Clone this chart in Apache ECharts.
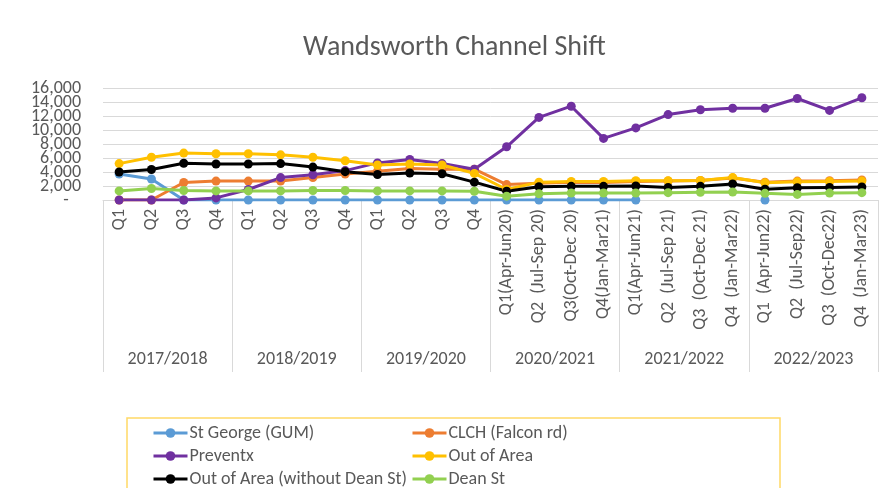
<!DOCTYPE html>
<html>
<head>
<meta charset="utf-8">
<script src="https://cdn.jsdelivr.net/npm/echarts@6/dist/echarts.min.js"></script>
<style>html,body{margin:0;padding:0;background:#fff}#c{width:883px;height:488px}</style>
</head>
<body>
<div id="c"></div>
<script>
var categories = ['Q1','Q2','Q3','Q4','Q1','Q2','Q3','Q4','Q1','Q2','Q3','Q4',
  'Q1(Apr-Jun20)','Q2  (Jul-Sep 20)','Q3(Oct-Dec 20)','Q4(Jan-Mar21)',
  'Q1(Apr-Jun21)','Q2  (Jul-Sep 21)','Q3  (Oct-Dec 21)','Q4  (Jan-Mar22)',
  'Q1  (Apr-Jun22)','Q2  (Jul-Sep22)','Q3  (Oct-Dec22)','Q4  (Jan-Mar23)'];
var years = ['2017/2018','2018/2019','2019/2020','2020/2021','2021/2022','2022/2023'];
var yTicks = [0, 2000, 4000, 6000, 8000, 10000, 12000, 14000, 16000];

var stGeorge = [3700,3000,0,0,0,0,0,0,0,0,0,0,0,0,0,0,0,null,null,null,0,null,null,null];
var clch     = [0,0,2500,2700,2700,2700,3200,3700,4100,4500,4400,4400,2200,2400,2550,2500,2650,2700,2800,3150,2550,2700,2750,2850];
var preventx = [0,0,0,300,1500,3200,3600,4200,5300,5800,5200,4400,7600,11800,13400,8800,10300,12200,12900,13100,13100,14500,12800,14600];
var outOfArea = [5200,6100,6700,6600,6600,6450,6100,5600,5000,5150,5000,3800,1500,2550,2650,2650,2750,2750,2800,3200,2450,2600,2650,2700];
var outOfAreaNoDean = [4000,4350,5250,5150,5150,5200,4700,4050,3650,3850,3750,2550,1250,1900,1950,1950,2000,1800,1950,2300,1550,1750,1800,1850];
var deanSt = [1300,1650,1350,1300,1300,1300,1350,1350,1300,1300,1300,1250,550,900,1000,1000,1000,1050,1100,1150,950,800,1000,1050];

var legendLeft = ['St George (GUM)', 'Preventx', 'Out of Area (without Dean St)'];
var legendRight = ['CLCH (Falcon rd)', 'Out of Area', 'Dean St'];

var FONT = 'Carlito, Calibri, "Liberation Sans", Arial, sans-serif';
var TXT = '#595959';
var GRIDC = '#d9d9d9';

var yMin = yTicks[0], yMax = yTicks[yTicks.length - 1], yStep = yTicks[1] - yTicks[0];
// plot area geometry
var G_TOP = 88, G_BOTTOM = 288, G_H = 488 - G_TOP - G_BOTTOM;
var pxPerStep = G_H / ((yMax - yMin) / yStep);

function fmt(v) { return v === 0 ? '-   ' : v.toLocaleString('en-US'); }

function mk(name, data, color) {
  return {
    name: name, type: 'line', data: data, xAxisIndex: 0, yAxisIndex: 0,
    symbol: 'circle', symbolSize: 9, connectNulls: false,
    itemStyle: {color: color},
    lineStyle: {color: color, width: 3},
    emphasis: {disabled: true}, animation: false
  };
}
function lg(left, data) {
  return {
    left: left, top: 424, height: 120, padding: 0, orient: 'vertical',
    itemWidth: 34, itemHeight: 12, itemGap: 5,
    lineStyle: {width: 3},
    textStyle: {fontFamily: FONT, fontSize: 18, lineHeight: 17, color: TXT, padding: [0, 0, 0, -3]},
    data: data
  };
}
var labelStyle = {margin: 22, color: TXT, fontFamily: FONT, fontSize: 18, showMinLabel: true, showMaxLabel: true};

var chart = echarts.init(document.getElementById('c'), null, {renderer: 'canvas'});
chart.setOption({
  backgroundColor: '#fff',
  animation: false,
  title: {
    text: 'Wandsworth Channel Shift', left: 298, top: 29,
    textStyle: {fontFamily: FONT, fontSize: 28, fontWeight: 'normal', color: TXT}
  },
  grid: [
    {left: 103, right: 5, top: G_TOP, bottom: G_BOTTOM, containLabel: false},
    // helper grid for the odd labels (same scale, shifted by one step each side)
    {left: 103, right: 5, top: G_TOP - pxPerStep, bottom: G_BOTTOM - pxPerStep, containLabel: false}
  ],
  xAxis: [{
    type: 'category', data: categories, boundaryGap: true, gridIndex: 0, position: 'bottom',
    axisLine: {show: true, onZero: false, lineStyle: {color: GRIDC, width: 1}},
    axisTick: {show: false},
    axisLabel: {interval: 0, rotate: 90, margin: 9, color: TXT, fontFamily: FONT, fontSize: 18}
  }, {
    type: 'category', data: years, boundaryGap: true, position: 'bottom', offset: 0, gridIndex: 0,
    axisLine: {show: false, onZero: false},
    axisTick: {show: true, inside: false, length: 172, lineStyle: {color: GRIDC, width: 1}},
    axisLabel: {margin: 150, color: TXT, fontFamily: FONT, fontSize: 18}
  }, {
    type: 'category', data: categories, gridIndex: 1, show: false, axisLine: {onZero: false}
  }],
  yAxis: [{
    type: 'value', gridIndex: 0, min: yMin, max: yMax, interval: yStep * 2,
    axisLine: {show: false}, axisTick: {show: false},
    splitLine: {show: false},
    axisLabel: Object.assign({formatter: fmt}, labelStyle)
  }, {
    type: 'value', gridIndex: 1, min: yMin - yStep, max: yMax + yStep, interval: yStep * 2,
    axisLine: {show: false}, axisTick: {show: false},
    splitLine: {show: false},
    axisLabel: Object.assign({formatter: function (v) { return (v < yMin || v > yMax) ? '' : fmt(v); }}, labelStyle)
  }, {
    type: 'value', gridIndex: 0, min: yMin, max: yMax, interval: yStep, position: 'left',
    axisLine: {show: false}, axisTick: {show: false}, axisLabel: {show: false},
    splitLine: {lineStyle: {color: GRIDC, width: 1}}
  }],
  legend: [lg(152, legendLeft), lg(411, legendRight)],
  graphic: [{
    type: 'rect', shape: {x: 127, y: 418, width: 653, height: 80},
    style: {fill: 'none', stroke: '#ffd966', lineWidth: 1.5}, silent: true
  }],
  series: [
    mk('St George (GUM)', stGeorge, '#5b9bd5'),
    mk('CLCH (Falcon rd)', clch, '#ed7d31'),
    mk('Preventx', preventx, '#7030a0'),
    mk('Out of Area', outOfArea, '#ffc000'),
    mk('Out of Area (without Dean St)', outOfAreaNoDean, '#000000'),
    mk('Dean St', deanSt, '#92d050')
  ]
});
</script>
</body>
</html>
